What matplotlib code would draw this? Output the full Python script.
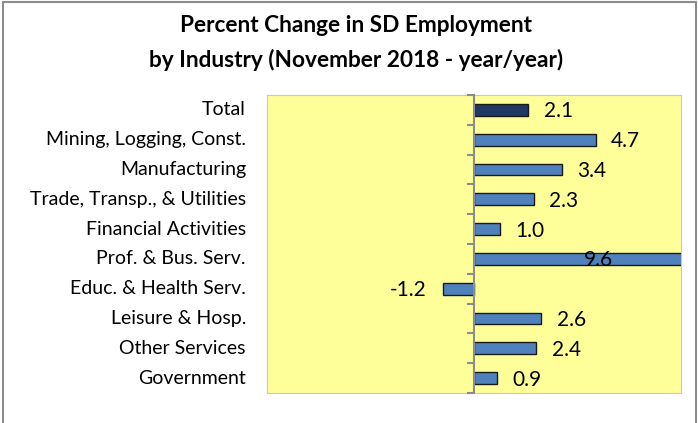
import numpy as np
import matplotlib.pyplot as plt
import matplotlib.transforms as mtransforms
from matplotlib.patches import Rectangle

plt.rcParams['font.family'] = ['Lato', 'DejaVu Sans']

industries = ['Total', 'Mining, Logging, Const.', 'Manufacturing',
              'Trade, Transp., & Utilities', 'Financial Activities',
              'Prof. & Bus. Serv.', 'Educ. & Health Serv.', 'Leisure & Hosp.',
              'Other Services', 'Government']
pct_change = [2.1, 4.7, 3.4, 2.3, 1.0, 9.6, -1.2, 2.6, 2.4, 0.9]

xmin, xmax = -8, 8

fig = plt.figure(figsize=(6.98, 4.23), dpi=100)
ax = fig.add_axes([267/698, 1-393/423, 414/698, 298/423])
ax.set_facecolor('#FFFF99')

y = np.arange(len(industries))
colors = ['#1F3864'] + ['#4F81BD']*(len(industries)-1)
ax.barh(y, pct_change, height=0.4, color=colors, edgecolor='#1a1a1a', linewidth=1.0, zorder=3)

ax.set_xlim(xmin, xmax)
ax.set_ylim(len(industries)-0.5, -0.5)

# value labels
for yi, v in zip(y, pct_change):
    if v > xmax:
        ax.text(v/2, yi+0.05, f'{v:.1f}', ha='center', va='center', fontsize=15, zorder=4)
    elif v >= 0:
        ax.text(v+0.6, yi+0.05, f'{v:.1f}', ha='left', va='center', fontsize=15)
    else:
        ax.text(v-0.65, yi+0.05, f'{v:.1f}', ha='right', va='center', fontsize=15)

# category labels on the left
trans = mtransforms.blended_transform_factory(ax.transAxes, ax.transData)
for yi, name in zip(y, industries):
    ax.text(-0.051, yi, name, transform=trans, ha='right', va='center', fontsize=14)

# vertical axis at zero with ticks at category boundaries
ax.axvline(0, color='#8c8c8c', linewidth=1.5, zorder=4)
for b in np.arange(len(industries)+1) - 0.5:
    ax.plot([-0.25, 0], [b, b], color='#8c8c8c', linewidth=1.5, zorder=4, clip_on=False)

ax.set_xticks([])
ax.set_yticks([])
for s in ax.spines.values():
    s.set_color('#c8c8c8')
    s.set_linewidth(0.8)

fig.text(356/698, 1-25/423, 'Percent Change in SD Employment', ha='center', va='center',
         fontsize=16.3, fontweight='bold')
fig.text(356/698, 1-60/423, 'by Industry (November 2018 - year/year)', ha='center', va='center',
         fontsize=16.3, fontweight='bold')

# outer chart border
fig.patches.append(Rectangle((3/698, -0.1), 693/698, 1.1 - 2/423, transform=fig.transFigure,
                             fill=False, edgecolor='#8c8c8c', linewidth=1.5))

fig.savefig('out.png', dpi=100)
